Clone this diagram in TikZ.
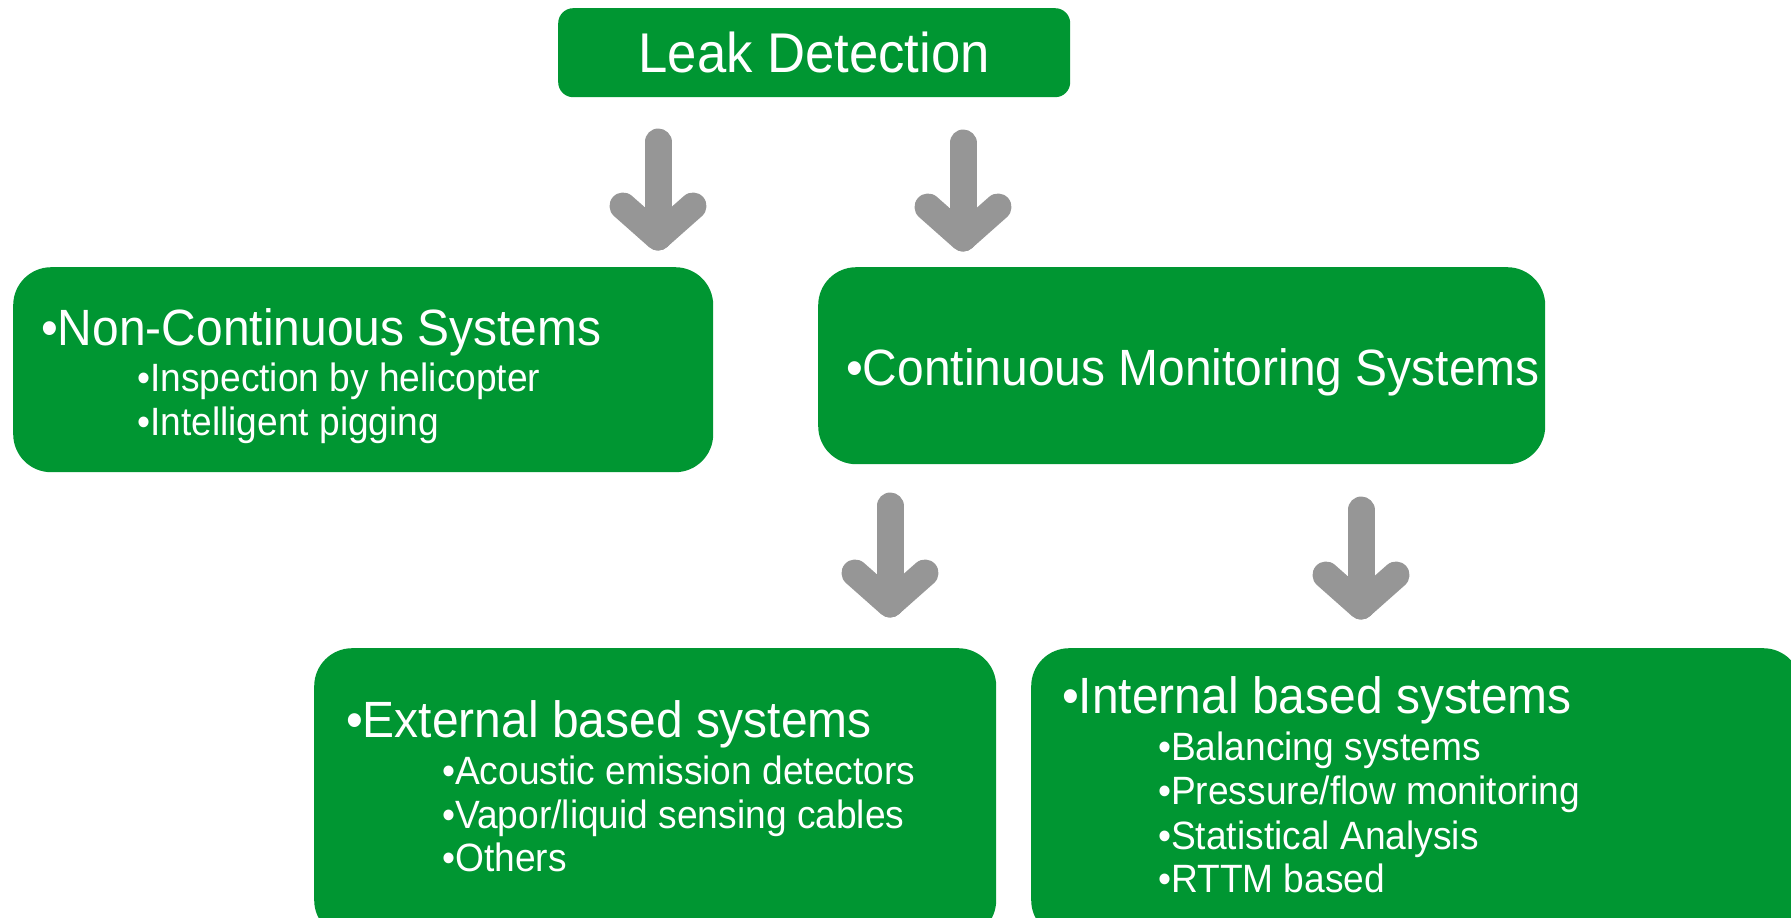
\documentclass[tikz,border=0pt]{standalone}
\usepackage{fontspec}
\setmainfont{Liberation Sans}[FakeStretch=0.94]
\usetikzlibrary{calc}
\definecolor{boxgreen}{RGB}{0,150,50}
\definecolor{arrowgray}{RGB}{150,150,150}
\begin{document}
\begin{tikzpicture}[x=1pt,y=-1pt,
  box/.style={fill=boxgreen, draw=none, rounded corners=38pt, anchor=north west, inner sep=0pt},
  titlebox/.style={box, rounded corners=15pt},
  txt/.style={text=white, inner sep=0pt, anchor=base west},
  titletxt/.style={text=white, inner sep=0pt, font=\fontsize{56}{56}\selectfont},
  headtxt/.style={txt, font=\fontsize{51}{51}\selectfont},
  subtxt/.style={txt, font=\fontsize{39.5}{39.5}\selectfont},
  garrow/.style={draw=arrowgray, line width=27pt, line cap=round, line join=round}
]
\useasboundingbox (0,0) rectangle (1791,918);
\clip (0,0) rectangle (1791,918);

% boxes
\node[titlebox, minimum width=512pt, minimum height=89pt] (leak) at (558,8) {};
\node[box, minimum width=700pt, minimum height=205pt] (nc) at (13,267) {};
\node[box, minimum width=727pt, minimum height=197pt] (cm) at (818,267) {};
\node[box, minimum width=682pt, minimum height=290pt] (ext) at (314,648) {};
\node[box, minimum width=770pt, minimum height=290pt] (int) at (1031,648) {};

% texts
\node[titletxt] (leakt) at (leak.center) {Leak Detection};

\node[headtxt] (nch) at (41,345) {•Non-Continuous Systems};
\node[subtxt] (nc1) at (137,391) {•Inspection by helicopter};
\node[subtxt] (nc2) at (137,435) {•Intelligent pigging};

\node[headtxt] (cmh) at (846,385) {•Continuous Monitoring Systems};

\node[headtxt] (exh) at (346,737) {•External based systems};
\node[subtxt] (ex1) at (442,784) {•Acoustic emission detectors};
\node[subtxt] (ex2) at (442,828) {•Vapor/liquid sensing cables};
\node[subtxt] (ex3) at (442,871) {•Others};

\node[headtxt] (inh) at (1062,713) {•Internal based systems};
\node[subtxt] (in1) at (1158,760) {•Balancing systems};
\node[subtxt] (in2) at (1158,804) {•Pressure/flow monitoring};
\node[subtxt] (in3) at (1158,849) {•Statistical Analysis};
\node[subtxt] (in4) at (1158,892) {•RTTM based};

% arrows
\coordinate (a1t) at (658,142); \coordinate (a1b) at (658,237);
\coordinate (a2t) at (963,143); \coordinate (a2b) at (963,238);
\coordinate (a3t) at (890,506); \coordinate (a3b) at (890,604);
\coordinate (a4t) at (1361,510); \coordinate (a4b) at (1361,606);
\foreach \a in {a1,a2,a3,a4}{
  \draw[garrow] (\a t) -- (\a b);
  \draw[garrow] ($(\a b)+(-35,-31)$) -- (\a b) -- ($(\a b)+(35,-31)$);
}
\end{tikzpicture}
\end{document}
